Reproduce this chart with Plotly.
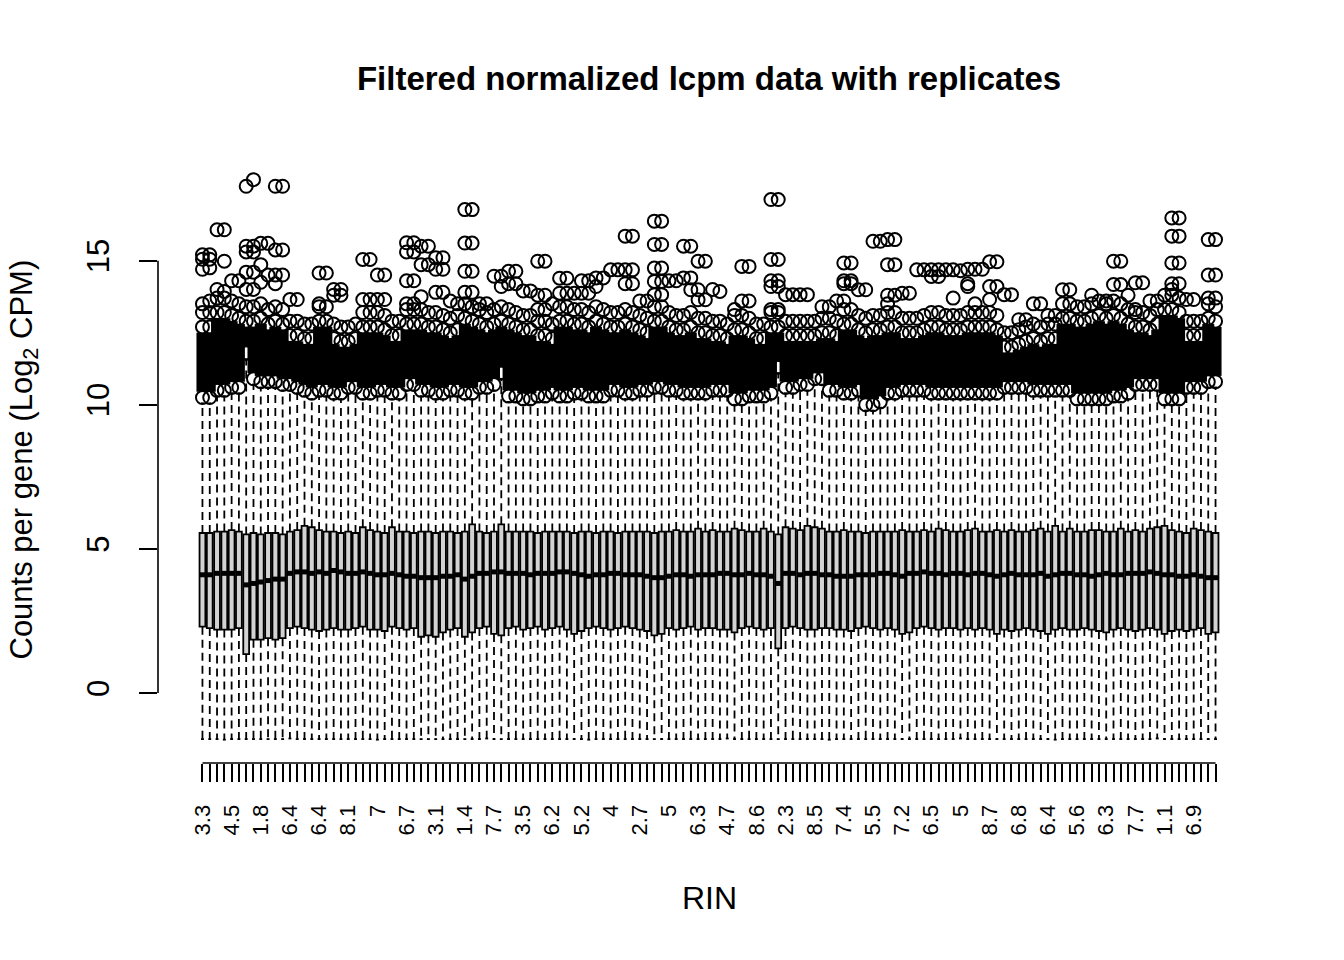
import plotly.graph_objects as go

# ---- data (140 samples, RIN labels shown on every 4th box) ----
n_boxes = 140
box_x = list(range(1, n_boxes + 1))

rin_labels = ["3.3", "4.5", "1.8", "6.4", "6.4", "8.1", "7", "6.7", "3.1", "1.4",
              "7.7", "3.5", "6.2", "5.2", "4", "2.7", "5", "6.3", "4.7", "8.6",
              "2.3", "8.5", "7.4", "5.5", "7.2", "6.5", "5", "8.7", "6.8", "6.4",
              "5.6", "6.3", "7.7", "1.1", "6.9"]
label_every = 4

q1 = [2.30, 2.25, 2.20, 2.20, 2.20, 2.25, 1.35, 1.85, 1.85, 1.90,
      1.85, 1.90, 2.25, 2.30, 2.25, 2.20, 2.15, 2.20, 2.25, 2.20,
      2.20, 2.25, 2.30, 2.20, 2.20, 2.15, 2.30, 2.25, 2.20, 2.25,
      1.95, 2.00, 1.95, 2.10, 2.20, 2.25, 1.95, 2.10, 2.25, 2.30,
      2.05, 2.00, 2.25, 2.30, 2.20, 2.25, 2.30, 2.20, 2.25, 2.30,
      2.20, 2.05, 2.15, 2.25, 2.30, 2.25, 2.20, 2.25, 2.30, 2.25,
      2.20, 2.15, 2.00, 2.05, 2.25, 2.20, 2.25, 2.30, 2.20, 2.25,
      2.25, 2.20, 2.20, 2.10, 2.25, 2.30, 2.25, 2.20, 2.25, 1.55,
      2.25, 2.30, 2.25, 2.20, 2.20, 2.25, 2.25, 2.20, 2.20, 2.15,
      2.25, 2.30, 2.25, 2.20, 2.25, 2.20, 2.05, 2.10, 2.25, 2.30,
      2.25, 2.20, 2.25, 2.25, 2.20, 2.25, 2.20, 2.25, 2.20, 2.05,
      2.20, 2.15, 2.20, 2.25, 2.20, 2.15, 2.05, 2.20, 2.25, 2.20,
      2.20, 2.25, 2.20, 2.15, 2.10, 2.20, 2.25, 2.20, 2.15, 2.20,
      2.25, 2.20, 2.05, 2.15, 2.20, 2.15, 2.20, 2.25, 2.05, 2.10]

median = [4.10, 4.10, 4.15, 4.15, 4.15, 4.15, 3.75, 3.80, 3.85, 3.90,
          3.95, 3.95, 4.15, 4.20, 4.20, 4.15, 4.20, 4.15, 4.25, 4.20,
          4.15, 4.15, 4.20, 4.15, 4.10, 4.10, 4.15, 4.10, 4.05, 4.05,
          4.00, 4.00, 4.00, 4.05, 4.05, 4.10, 3.95, 4.05, 4.15, 4.15,
          4.20, 4.20, 4.15, 4.15, 4.15, 4.10, 4.15, 4.15, 4.15, 4.20,
          4.20, 4.15, 4.10, 4.05, 4.10, 4.10, 4.15, 4.15, 4.10, 4.10,
          4.10, 4.05, 4.00, 4.00, 4.05, 4.10, 4.10, 4.05, 4.10, 4.10,
          4.10, 4.15, 4.15, 4.10, 4.10, 4.15, 4.10, 4.10, 4.05, 3.80,
          4.15, 4.15, 4.10, 4.15, 4.15, 4.10, 4.10, 4.05, 4.05, 4.05,
          4.10, 4.10, 4.10, 4.15, 4.15, 4.10, 4.05, 4.15, 4.15, 4.20,
          4.15, 4.15, 4.10, 4.15, 4.15, 4.10, 4.15, 4.15, 4.10, 4.05,
          4.10, 4.15, 4.10, 4.10, 4.10, 4.15, 4.05, 4.10, 4.15, 4.15,
          4.10, 4.10, 4.05, 4.10, 4.15, 4.10, 4.10, 4.15, 4.15, 4.15,
          4.20, 4.15, 4.10, 4.10, 4.05, 4.05, 4.10, 4.05, 4.00, 4.00]

q3 = [5.55, 5.55, 5.60, 5.60, 5.65, 5.60, 5.50, 5.55, 5.50, 5.55,
      5.55, 5.50, 5.60, 5.65, 5.80, 5.75, 5.65, 5.60, 5.60, 5.55,
      5.60, 5.55, 5.75, 5.65, 5.60, 5.55, 5.75, 5.60, 5.60, 5.55,
      5.60, 5.60, 5.55, 5.60, 5.60, 5.55, 5.60, 5.85, 5.60, 5.55,
      5.60, 5.85, 5.60, 5.60, 5.60, 5.60, 5.55, 5.60, 5.60, 5.60,
      5.60, 5.55, 5.60, 5.60, 5.55, 5.60, 5.60, 5.55, 5.60, 5.60,
      5.60, 5.60, 5.55, 5.60, 5.60, 5.65, 5.60, 5.60, 5.70, 5.60,
      5.65, 5.60, 5.60, 5.70, 5.65, 5.60, 5.60, 5.70, 5.60, 5.50,
      5.75, 5.70, 5.65, 5.80, 5.75, 5.70, 5.60, 5.60, 5.65, 5.60,
      5.60, 5.55, 5.60, 5.60, 5.60, 5.60, 5.65, 5.60, 5.60, 5.65,
      5.60, 5.70, 5.65, 5.60, 5.60, 5.65, 5.70, 5.60, 5.60, 5.65,
      5.60, 5.65, 5.60, 5.60, 5.65, 5.70, 5.60, 5.80, 5.60, 5.70,
      5.60, 5.60, 5.65, 5.65, 5.60, 5.60, 5.70, 5.60, 5.65, 5.60,
      5.70, 5.75, 5.80, 5.65, 5.60, 5.55, 5.70, 5.65, 5.60, 5.55]

whisker_lo = [-1.60, -1.60, -1.60, -1.62, -1.60, -1.60, -1.60, -1.60, -1.60, -1.60,
              -1.60, -1.60, -1.58, -1.60, -1.60, -1.60, -1.60, -1.60, -1.60, -1.60,
              -1.60, -1.60, -1.60, -1.60, -1.62, -1.60, -1.60, -1.60, -1.60, -1.60,
              -1.60, -1.60, -1.60, -1.60, -1.60, -1.60, -1.60, -1.60, -1.60, -1.58,
              -1.60, -1.60, -1.60, -1.60, -1.60, -1.60, -1.60, -1.60, -1.60, -1.60,
              -1.60, -1.60, -1.60, -1.62, -1.60, -1.60, -1.60, -1.60, -1.60, -1.60,
              -1.60, -1.60, -1.60, -1.60, -1.60, -1.60, -1.60, -1.60, -1.60, -1.60,
              -1.60, -1.60, -1.58, -1.60, -1.60, -1.60, -1.60, -1.60, -1.60, -1.60,
              -1.60, -1.60, -1.60, -1.60, -1.60, -1.60, -1.62, -1.60, -1.60, -1.60,
              -1.60, -1.60, -1.60, -1.60, -1.60, -1.60, -1.60, -1.60, -1.60, -1.60,
              -1.60, -1.60, -1.60, -1.60, -1.58, -1.60, -1.60, -1.60, -1.60, -1.60,
              -1.60, -1.60, -1.60, -1.60, -1.60, -1.60, -1.60, -1.62, -1.60, -1.60,
              -1.60, -1.60, -1.60, -1.60, -1.60, -1.60, -1.60, -1.60, -1.60, -1.60,
              -1.60, -1.58, -1.60, -1.60, -1.60, -1.60, -1.60, -1.60, -1.60, -1.60]

whisker_hi = [10.05, 10.05, 10.3, 10.3, 10.4, 10.4, 11.55, 10.7, 10.6, 10.6,
              10.6, 10.5, 10.5, 10.4, 10.3, 10.2, 10.3, 10.3, 10.2, 10.2,
              10.4, 10.4, 10.2, 10.2, 10.3, 10.3, 10.2, 10.2, 10.5, 10.5,
              10.3, 10.3, 10.2, 10.2, 10.3, 10.3, 10.2, 10.2, 10.4, 10.4,
              10.5, 10.9, 10.1, 10.1, 10.0, 10.0, 10.1, 10.1, 10.2, 10.1,
              10.1, 10.2, 10.2, 10.1, 10.1, 10.1, 10.3, 10.3, 10.2, 10.2,
              10.3, 10.3, 10.4, 10.4, 10.3, 10.3, 10.2, 10.2, 10.2, 10.2,
              10.3, 10.3, 10.3, 10.0, 10.0, 10.1, 10.1, 10.1, 10.2, 11.1,
              10.4, 10.4, 10.5, 10.5, 10.7, 10.7, 10.3, 10.3, 10.2, 10.2,
              10.3, 9.8, 9.8, 9.9, 10.2, 10.2, 10.3, 10.3, 10.3, 10.3,
              10.2, 10.2, 10.2, 10.2, 10.2, 10.2, 10.2, 10.2, 10.2, 10.2,
              10.4, 10.4, 10.4, 10.4, 10.3, 10.3, 10.3, 10.3, 10.3, 10.3,
              10.0, 10.0, 10.0, 10.0, 10.0, 10.1, 10.1, 10.2, 10.5, 10.5,
              10.5, 10.5, 10.0, 10.0, 10.0, 10.4, 10.4, 10.4, 10.6, 10.6]

# lowest outlier and top of the solid (overplotted) outlier mass per box
outlier_lo = [10.25, 10.25, 10.5, 10.5, 10.6, 10.6, 11.8, 10.9, 10.8, 10.8,
              10.8, 10.7, 10.7, 10.6, 10.5, 10.4, 10.5, 10.5, 10.4, 10.4,
              10.6, 10.6, 10.4, 10.4, 10.5, 10.5, 10.4, 10.4, 10.7, 10.7,
              10.5, 10.5, 10.4, 10.4, 10.5, 10.5, 10.4, 10.4, 10.6, 10.6,
              10.7, 11.1, 10.3, 10.3, 10.2, 10.2, 10.3, 10.3, 10.4, 10.3,
              10.3, 10.4, 10.4, 10.3, 10.3, 10.3, 10.5, 10.5, 10.4, 10.4,
              10.5, 10.5, 10.6, 10.6, 10.5, 10.5, 10.4, 10.4, 10.4, 10.4,
              10.5, 10.5, 10.5, 10.2, 10.2, 10.3, 10.3, 10.3, 10.4, 11.3,
              10.6, 10.6, 10.7, 10.7, 10.9, 10.9, 10.5, 10.5, 10.4, 10.4,
              10.5, 10.0, 10.0, 10.1, 10.4, 10.4, 10.5, 10.5, 10.5, 10.5,
              10.4, 10.4, 10.4, 10.4, 10.4, 10.4, 10.4, 10.4, 10.4, 10.4,
              10.6, 10.6, 10.6, 10.6, 10.5, 10.5, 10.5, 10.5, 10.5, 10.5,
              10.2, 10.2, 10.2, 10.2, 10.2, 10.3, 10.3, 10.4, 10.7, 10.7,
              10.7, 10.7, 10.2, 10.2, 10.2, 10.6, 10.6, 10.6, 10.8, 10.8]

outlier_solid_top = [12.7, 12.7, 13.2, 13.2, 13.1, 13.0, 12.9, 12.9, 13.0, 12.8,
                     12.9, 12.8, 12.4, 12.4, 12.3, 12.3, 12.9, 12.9, 12.3, 12.2,
                     12.2, 12.3, 12.7, 12.7, 12.7, 12.6, 12.4, 12.4, 12.8, 12.8,
                     12.8, 12.7, 12.7, 12.6, 12.5, 12.6, 13.0, 12.9, 12.8, 12.7,
                     12.8, 12.9, 12.8, 12.7, 12.6, 12.6, 12.4, 12.4, 12.3, 12.9,
                     12.9, 12.8, 12.8, 12.7, 12.9, 12.8, 12.7, 12.7, 12.8, 12.7,
                     12.6, 12.5, 12.9, 12.9, 12.7, 12.6, 12.6, 12.7, 12.5, 12.5,
                     12.4, 12.4, 12.3, 12.6, 12.6, 12.5, 12.3, 12.3, 12.7, 12.7,
                     12.4, 12.4, 12.4, 12.4, 12.4, 12.5, 12.5, 12.4, 12.8, 12.8,
                     12.6, 12.5, 12.6, 12.6, 12.7, 12.7, 12.5, 12.5, 12.5, 12.6,
                     12.7, 12.7, 12.6, 12.6, 12.6, 12.7, 12.7, 12.7, 12.7, 12.6,
                     12.0, 12.0, 12.1, 12.2, 12.3, 12.2, 12.3, 12.3, 13.0, 13.0,
                     12.9, 12.9, 13.0, 13.1, 13.0, 13.1, 13.0, 12.8, 12.7, 12.7,
                     12.6, 12.8, 13.3, 13.3, 13.2, 12.4, 12.4, 12.4, 13.0, 12.9]

# separate outlier circles above the solid mass, one list per box
outliers_upper = [
    [13.2, 13.5, 14.7, 15.05, 15.2], [13.2, 13.6, 14.75, 15.05, 15.2],
    [13.7, 14.0, 16.07], [13.7, 13.93, 14.98, 16.07],
    [13.6, 14.3], [13.5, 14.3],
    [13.4, 14.0, 14.6, 15.3, 15.5, 17.58], [13.4, 14.0, 14.6, 15.3, 15.5, 17.81],
    [13.5, 14.25, 14.86, 15.6], [13.3, 14.5, 15.6],
    [13.4, 14.2, 14.5, 15.37, 17.58], [13.3, 14.5, 15.37, 17.58],
    [12.9, 13.65], [12.9, 13.65],
    [12.8], [12.8],
    [13.4, 13.5, 14.57], [13.4, 14.57],
    [12.8, 13.8, 14.0], [12.7, 13.8, 14.0],
    [12.7], [12.8],
    [13.2, 13.65, 15.04], [13.2, 13.65, 15.04],
    [13.2, 13.65, 14.5], [13.1, 13.65, 14.5],
    [12.9], [12.9],
    [13.3, 13.5, 14.3, 15.3, 15.62], [13.3, 13.5, 14.3, 15.3, 15.62],
    [13.3, 13.75, 14.86, 15.5], [13.2, 14.86, 15.5],
    [13.2, 13.9, 14.7, 15.1], [13.1, 13.9, 14.7, 15.1],
    [13.0, 13.6], [13.1, 13.5],
    [13.5, 13.9, 14.63, 15.61, 16.77], [13.4, 13.9, 14.63, 15.61, 16.77],
    [13.3, 13.5], [13.2, 13.5],
    [13.3, 14.46], [13.4, 14.1, 14.46],
    [13.3, 14.2, 14.63], [13.2, 14.2, 14.63],
    [13.1, 13.95], [13.1, 13.95],
    [12.9, 13.3, 13.8, 14.98], [12.9, 13.3, 13.8, 14.98],
    [12.8, 13.5], [13.4, 13.87, 14.39],
    [13.4, 13.87, 14.39], [13.3, 13.87],
    [13.3, 13.87, 14.3], [13.2, 13.87, 14.3],
    [13.4, 14.1, 14.4], [13.3, 14.4],
    [13.2, 14.68], [13.2, 14.68],
    [13.3, 14.2, 14.68, 15.85], [13.2, 14.2, 14.68, 15.85],
    [13.1, 13.6], [13.0, 13.6],
    [13.4, 13.82, 14.28, 14.74, 15.56, 16.37], [13.4, 13.82, 14.28, 14.74, 15.56, 16.37],
    [13.2, 14.3], [13.1, 14.3],
    [13.1, 14.4, 15.5], [13.2, 13.99, 14.4, 15.5],
    [13.0, 13.64, 13.99, 14.98], [13.0, 13.64, 14.98],
    [12.9, 14.0], [12.9, 13.93],
    [12.8], [13.1, 13.3],
    [13.1, 13.6, 14.8], [13.0, 13.6, 14.8],
    [12.8], [12.8],
    [13.2, 13.3, 14.1, 14.3, 15.04, 17.12], [13.2, 13.3, 14.1, 14.3, 15.04, 17.12],
    [12.9, 13.82], [12.9, 13.82],
    [12.9, 13.82], [12.9, 13.82],
    [12.9], [13.0, 13.4],
    [13.0, 13.4], [12.9, 13.6],
    [13.3, 13.6, 14.2, 14.3, 14.92], [13.3, 14.2, 14.3, 14.92],
    [13.1, 13.99], [13.0, 13.99],
    [13.1, 15.67], [13.1, 15.67],
    [13.2, 13.5, 13.8, 14.86, 15.73], [13.2, 13.8, 14.86, 15.73],
    [13.0, 13.87], [13.0, 13.87],
    [13.0, 14.68], [13.1, 14.68],
    [13.2, 14.45, 14.68], [13.2, 14.45, 14.68],
    [13.1, 14.68], [13.1, 13.7, 14.68],
    [13.1, 14.65], [13.2, 14.1, 14.2, 14.7],
    [13.2, 13.5, 14.7], [13.2, 14.7],
    [13.2, 13.65, 14.1, 14.96], [13.1, 14.1, 14.96],
    [12.5, 13.82], [12.5, 13.82],
    [12.6, 12.95], [12.7, 12.95],
    [12.8, 13.5], [12.7, 13.5],
    [12.8, 13.1], [12.8, 13.1],
    [13.5, 13.99], [13.5, 13.99],
    [13.4], [13.4],
    [13.5, 13.8], [13.6],
    [13.5, 13.6], [13.6, 14.17, 14.98],
    [13.5, 14.17, 14.98], [13.3, 13.8],
    [13.2, 13.3, 14.23], [13.2, 14.23],
    [13.1, 13.6], [13.3, 13.6],
    [13.8], [13.8, 14.0, 14.2, 14.92, 15.85, 16.48],
    [13.7, 14.2, 14.92, 15.85, 16.48], [12.9, 13.65],
    [12.9, 13.65], [12.9],
    [13.5, 13.7, 14.5, 15.73], [13.4, 13.7, 14.5, 15.73],
]

y_ticks = [0, 5, 10, 15]

# ---- geometry helpers ----
half_box = 0.4      # boxwex 0.8
half_staple = 0.2   # staplewex 0.5

whisk_x, whisk_y = [], []
staple_x, staple_y = [], []
med_x, med_y = [], []
mass_x, mass_y = [], []
pt_x, pt_y = [], []
for i, x in enumerate(box_x):
    whisk_x += [x, x, None, x, x, None]
    whisk_y += [q3[i], whisker_hi[i], None, q1[i], whisker_lo[i], None]
    for w in (whisker_hi[i], whisker_lo[i]):
        staple_x += [x - half_staple, x + half_staple, None]
        staple_y += [w, w, None]
    med_x += [x - half_box, x + half_box, None]
    med_y += [median[i], median[i], None]
    mass_x += [x, x, None]
    mass_y += [outlier_lo[i] + 0.2, outlier_solid_top[i] - 0.2, None]
    for v in [outlier_lo[i], outlier_solid_top[i]] + outliers_upper[i]:
        pt_x.append(x)
        pt_y.append(v)

tick_text = []
for i in range(n_boxes):
    if i % label_every == 0 and i // label_every < len(rin_labels):
        tick_text.append(rin_labels[i // label_every])
    else:
        tick_text.append(" ")

font_family = "Liberation Sans, Arial, Helvetica, sans-serif"

# page body keeps an 8px margin, so the figure is 16px smaller than the window
fig_w, fig_h = 1328, 944

fig = go.Figure()
fig.add_trace(go.Scatter(x=whisk_x, y=whisk_y, mode="lines",
                         line=dict(color="black", width=1.8, dash="8px,5px")))
fig.add_trace(go.Scatter(x=staple_x, y=staple_y, mode="lines",
                         line=dict(color="black", width=1.8)))
fig.add_trace(go.Bar(x=box_x, y=[b - a for a, b in zip(q1, q3)], base=q1, width=0.8,
                     marker=dict(color="#D3D3D3", line=dict(color="black", width=1.8))))
fig.add_trace(go.Scatter(x=med_x, y=med_y, mode="lines",
                         line=dict(color="black", width=5)))
fig.add_trace(go.Scatter(x=mass_x, y=mass_y, mode="lines",
                         line=dict(color="black", width=12)))
fig.add_trace(go.Scatter(x=pt_x, y=pt_y, mode="markers",
                         marker=dict(symbol="circle-open", size=13, color="black",
                                     line=dict(width=2, color="black"))))

fig.update_layout(
    width=fig_w, height=fig_h,
    margin=dict(l=150, r=76, t=148, b=189),
    paper_bgcolor="white", plot_bgcolor="white",
    showlegend=False, hovermode=False,
    font=dict(family=font_family, color="black"),
    title=dict(text="Filtered normalized lcpm data with replicates",
               x=0.5, xref="paper", xanchor="center",
               y=1 - 70 / fig_h, yref="container", yanchor="middle",
               font=dict(size=33, weight="bold", family=font_family, color="black")),
    xaxis=dict(range=[-5.1, 146.1], tickvals=box_x, ticktext=tick_text,
               tickangle=-90, ticks="outside", ticklen=18, tickwidth=1.6,
               tickcolor="black", tickfont=dict(size=22), ticklabelstandoff=14,
               showgrid=False, zeroline=False, showline=False),
    yaxis=dict(range=[-2.43, 18.63], tickvals=y_ticks,
               ticktext=[str(t) for t in y_ticks],
               tickangle=-90, ticks="outside", ticklen=18, tickwidth=1.6,
               tickcolor="black", tickfont=dict(size=31), ticklabelstandoff=18,
               showgrid=False, zeroline=False, showline=False),
    shapes=[
        dict(type="line", xref="paper", x0=0, x1=0, yref="y",
             y0=y_ticks[0], y1=y_ticks[-1], line=dict(color="black", width=1.6)),
        dict(type="line", xref="x", x0=box_x[0], x1=box_x[-1], yref="paper",
             y0=0, y1=0, line=dict(color="black", width=1.6)),
    ],
    annotations=[
        dict(text="RIN", xref="paper", yref="paper", x=0.5, y=-0.222,
             xanchor="center", yanchor="middle", showarrow=False,
             font=dict(size=32)),
        dict(text="Counts per gene (Log<sub>2</sub> CPM)", xref="paper", yref="paper",
             x=-0.1225, y=0.5, xanchor="center", yanchor="middle", textangle=-90,
             showarrow=False, font=dict(size=31)),
    ],
)

fig.write_html("out.html")
